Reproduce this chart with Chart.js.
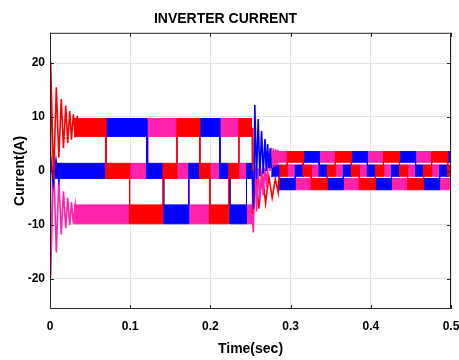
<!DOCTYPE html>
<html>
<head>
<meta charset="utf-8">
<script src="https://cdn.jsdelivr.net/npm/chart.js@4.4.1/dist/chart.umd.min.js"></script>
<style>
  html, body { margin: 0; padding: 0; background: #fff; overflow: hidden; }
  #wrap { width: 470px; height: 360px; }
</style>
</head>
<body>
<div id="wrap"><canvas id="myChart"></canvas></div>
<script>
// band limits (A) of the rippled current, level 0 = top, 1 = middle, 2 = bottom
let hi1 = [9.7, 1.4, -6.3];
let lo1 = [6.4, -1.4, -9.8];
let hi2 = [3.6, 1.1, -1.4];
let lo2 = [1.6, -1.0, -3.5];

// first part: switching instants (s) and level held in between
let redT1 = [0.030, 0.0696, 0.0992, 0.1408, 0.1583, 0.1867, 0.1992, 0.2229, 0.2354, 0.2521];
let redL1 = [0, 1, 2, 1, 0, 1, 2, 1, 0];
let blueT1 = [0.005, 0.0696, 0.1208, 0.1417, 0.1730, 0.1867, 0.2117, 0.2242, 0.2450, 0.2521];
let blueL1 = [1, 0, 1, 2, 1, 0, 1, 2, 1];
let pinkT1 = [0.030, 0.0992, 0.1221, 0.1583, 0.1730, 0.1992, 0.2117, 0.2354, 0.2450, 0.2521];
let pinkL1 = [2, 1, 0, 1, 2, 1, 0, 1, 2];

// second part
let redT2 = [0.2858, 0.2958, 0.3158, 0.3258, 0.3458, 0.3558, 0.3758, 0.3858, 0.4058, 0.4158, 0.4358, 0.4458, 0.4658, 0.4758, 0.4958, 0.5];
let redL2 = [1, 0, 1, 2, 1, 0, 1, 2, 1, 0, 1, 2, 1, 0, 1];
let blueT2 = [0.2758, 0.2858, 0.3058, 0.3158, 0.3358, 0.3458, 0.3658, 0.3758, 0.3958, 0.4058, 0.4258, 0.4358, 0.4558, 0.4658, 0.4858, 0.4958, 0.5];
let blueL2 = [1, 2, 1, 0, 1, 2, 1, 0, 1, 2, 1, 0, 1, 2, 1, 0];
let pinkT2 = [0.2758, 0.2958, 0.3058, 0.3258, 0.3358, 0.3558, 0.3658, 0.3858, 0.3958, 0.4158, 0.4258, 0.4458, 0.4558, 0.4758, 0.4858, 0.5];
let pinkL2 = [0, 1, 2, 1, 0, 1, 2, 1, 0, 1, 2, 1, 0, 1, 2];

// start-up ringing
let redRingT = [0, 0.0008, 0.0045, 0.0079, 0.0110, 0.0141, 0.0168, 0.0196, 0.0221, 0.0246, 0.0268, 0.0291, 0.0316, 0.0341];
let redRingV = [0, 20.3, -1.5, 15.5, 2.5, 13.3, 4.2, 12.1, 5.2, 11.1, 5.8, 10.5, 6.2, 10.2];
let blueRingT = [0, 0.0008, 0.0040, 0.0075, 0.0110, 0.0145];
let blueRingV = [0, 2.8, -2.4, 2.0, -1.8, 1.4];
let pinkRingT = [0, 0.0008, 0.0045, 0.0079, 0.0110, 0.0141, 0.0168, 0.0196, 0.0221, 0.0246, 0.0268, 0.0291, 0.0316, 0.0341];
let pinkRingV = [0, -19.8, 2.0, -15.1, -1.5, -11.8, -3.8, -10.6, -5.0, -10.0, -5.8, -9.8, -6.2, -9.6];

// ringing at the step change (~0.25 s)
let redStepT = [0.2521, 0.2528, 0.2562, 0.2604, 0.2646, 0.2688, 0.2729, 0.2770, 0.2810, 0.2845, 0.2858];
let redStepV = [8.0, -9.5, 0.5, -7.0, -0.3, -6.0, -1.0, -5.0, -1.5, -4.0, -0.9];
let blueStepT = [0.2521, 0.2540, 0.2554, 0.2575, 0.2596, 0.2617, 0.2638, 0.2659, 0.2680, 0.2697, 0.2713, 0.2730, 0.2745, 0.2758];
let blueStepV = [0.0, -7.0, 12.2, -1.5, 9.6, -1.0, 7.4, -0.5, 5.9, 0.0, 5.0, 0.5, 4.2, 0.5];
let pinkStepT = [0.2521, 0.2535, 0.2555, 0.2575, 0.2596, 0.2617, 0.2638, 0.2659, 0.2680, 0.2700, 0.2721, 0.2742, 0.2758, 0.2772, 0.2786, 0.2800, 0.2814, 0.2828, 0.2842, 0.2856];
let pinkStepV = [-8.0, -11.4, 1.0, -7.5, 0.5, -5.5, 0.0, -4.5, 0.5, -3.0, 2.5, 0.0, 4.3, 0.5, 4.2, 0.8, 4.0, 1.0, 3.9, 1.4];

let xTicks = [0, 0.1, 0.2, 0.3, 0.4, 0.5];

let RED = '#ff0000';
let BLUE = '#0000ff';
let PINK = '#ff22aa';
let FONT = 'Liberation Sans, Arial, sans-serif';

function bandPoints(edges, levels, table) {
  let pts = [];
  for (let i = 0; i < levels.length; i++) {
    pts.push({x: edges[i], y: table[levels[i]]});
    pts.push({x: edges[i + 1], y: table[levels[i]]});
  }
  return pts;
}

function linePoints(t, v) {
  return t.map((x, i) => ({x: x, y: v[i]}));
}

let datasets = [];

function addLine(t, v, color) {
  datasets.push({data: linePoints(t, v), borderColor: color, borderWidth: 1.6, fill: false});
}

function addBand(edges, levels, hi, lo, color) {
  datasets.push({data: bandPoints(edges, levels, hi), borderColor: color, backgroundColor: color, borderWidth: 1, fill: '+1'});
  datasets.push({data: bandPoints(edges, levels, lo), borderColor: color, borderWidth: 1, fill: false});
}

addLine(blueStepT, blueStepV, BLUE);
addLine(pinkStepT, pinkStepV, PINK);
addLine(redStepT, redStepV, RED);
addLine(redRingT, redRingV, RED);
addLine(blueRingT, blueRingV, BLUE);
addLine(pinkRingT, pinkRingV, PINK);

addBand(redT1, redL1, hi1, lo1, RED);
addBand(blueT1, blueL1, hi1, lo1, BLUE);
addBand(pinkT1, pinkL1, hi1, lo1, PINK);
addBand(redT2, redL2, hi2, lo2, RED);
addBand(blueT2, blueL2, hi2, lo2, BLUE);
addBand(pinkT2, pinkL2, hi2, lo2, PINK);

// MATLAB style box with inward tick marks
const boxPlugin = {
  id: 'box',
  afterDraw(chart) {
    const {ctx, chartArea: a, scales} = chart;
    ctx.save();
    ctx.strokeStyle = '#262626';
    ctx.lineWidth = 1;
    ctx.strokeRect(a.left + 0.5, a.top + 0.5, a.right - a.left - 1, a.bottom - a.top - 1);
    ctx.beginPath();
    scales.x.ticks.forEach(t => {
      let px = Math.round(scales.x.getPixelForValue(t.value)) + 0.5;
      ctx.moveTo(px, a.bottom); ctx.lineTo(px, a.bottom - 4);
      ctx.moveTo(px, a.top); ctx.lineTo(px, a.top + 4);
    });
    scales.y.ticks.forEach(t => {
      let py = Math.round(scales.y.getPixelForValue(t.value)) + 0.5;
      ctx.moveTo(a.left, py); ctx.lineTo(a.left + 4, py);
      ctx.moveTo(a.right, py); ctx.lineTo(a.right - 4, py);
    });
    ctx.stroke();
    ctx.restore();
  }
};

new Chart(document.getElementById('myChart'), {
  type: 'line',
  data: {datasets: datasets},
  options: {
    responsive: true,
    maintainAspectRatio: false,
    devicePixelRatio: 1,
    animation: false,
    normalized: true,
    layout: {padding: {left: 0, right: 19, top: 0, bottom: 0}},
    elements: {point: {radius: 0}, line: {tension: 0}},
    plugins: {
      legend: {display: false},
      tooltip: {enabled: false},
      title: {
        display: true,
        text: 'INVERTER CURRENT',
        color: '#000',
        font: {family: FONT, size: 14, weight: 'bold'},
        padding: {top: 11, bottom: 5}
      }
    },
    scales: {
      x: {
        type: 'linear',
        min: 0,
        max: 0.5,
        afterBuildTicks: s => { s.ticks = xTicks.map(v => ({value: v})); },
        afterFit: s => { s.height = 51; },
        grid: {color: '#e3e3e3', drawTicks: false},
        border: {display: false},
        ticks: {color: '#000', padding: 10, maxRotation: 0, font: {family: FONT, size: 12, weight: 'bold'}},
        title: {display: true, text: 'Time(sec)', color: '#000', padding: {top: 0, bottom: 2},
          font: {family: FONT, size: 14, weight: 'bold'}}
      },
      y: {
        min: -25.6,
        max: 25.6,
        afterFit: s => { s.width = 50; },
        grid: {color: '#e3e3e3', drawTicks: false},
        border: {display: false},
        ticks: {stepSize: 10, includeBounds: false, color: '#000', padding: 5,
          font: {family: FONT, size: 12, weight: 'bold'}},
        title: {display: true, text: 'Current(A)', color: '#000', padding: {top: 12, bottom: 0},
          font: {family: FONT, size: 14, weight: 'bold'}}
      }
    }
  },
  plugins: [boxPlugin]
});
</script>
</body>
</html>
